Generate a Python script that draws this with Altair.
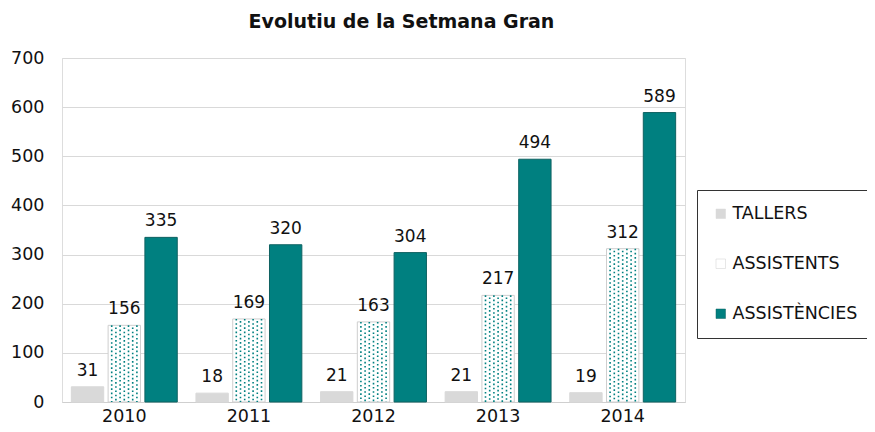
import altair as alt
import pandas as pd

years = ["2010", "2011", "2012", "2013", "2014"]
series = ["TALLERS", "ASSISTENTS", "ASSISTÈNCIES"]
tallers = [31, 18, 21, 21, 19]
assistents = [156, 169, 163, 217, 312]
assistencies = [335, 320, 304, 494, 589]

rows = []
for i, y in enumerate(years):
    rows.append({"year": y, "serie": series[0], "value": tallers[i]})
    rows.append({"year": y, "serie": series[1], "value": assistents[i]})
    rows.append({"year": y, "serie": series[2], "value": assistencies[i]})
df = pd.DataFrame(rows)
df_pat = df[df["serie"] == "ASSISTENTS"]

FONT = "DejaVu Sans"
TEAL = "#008080"

x_enc = alt.X("year:N", sort=years, title=None,
              scale=alt.Scale(paddingInner=0.15, paddingOuter=0.075),
              axis=alt.Axis(labelAngle=0, labelFont=FONT, labelFontSize=17.5,
                            labelColor="#111", labelPadding=5, ticks=False,
                            domainColor="#cfcfcf", domainWidth=1, grid=False))
xo_enc = alt.XOffset("serie:N", sort=series,
                     scale=alt.Scale(paddingInner=0.12, paddingOuter=0.0))
y_enc = alt.Y("value:Q", title=None,
              scale=alt.Scale(domain=[0, 700], nice=False),
              axis=alt.Axis(values=[0, 100, 200, 300, 400, 500, 600, 700],
                            labelFont=FONT, labelFontSize=17.5, labelColor="#111",
                            labelPadding=18, ticks=False, domain=False,
                            gridColor="#d9d9d9", gridWidth=1))

bars = alt.Chart(df).mark_bar(strokeWidth=1).encode(
    x=x_enc,
    xOffset=xo_enc,
    y=y_enc,
    color=alt.Color("serie:N", sort=series,
                    scale=alt.Scale(domain=series, range=["#d9d9d9", "#ffffff", TEAL]),
                    legend=alt.Legend(title=None, orient="none", legendX=635, legendY=132,
                                      symbolType="square", symbolSize=90,
                                      symbolStrokeColor="#aaaaaa", symbolStrokeWidth=0.5,
                                      labelFont=FONT, labelFontSize=17.5, labelColor="#111",
                                      rowPadding=31, padding=15, strokeColor="#333",
                                      fillColor="white", labelOffset=3)),
    stroke=alt.Stroke("serie:N", sort=series,
                      scale=alt.Scale(domain=series, range=["#d9d9d9", "#cfcfcf", "#0f6262"]),
                      legend=None),
)

layers = [bars]
offsets = [-12.6, -8.4, -4.2, 0.0, 4.2, 8.4, 12.6]
for k, off in enumerate(offsets):
    layers.append(
        alt.Chart(df_pat).mark_rule(
            xOffset=off, color=TEAL, strokeWidth=1.6,
            strokeDash=[1.6, 2.6], strokeDashOffset=(2.1 if k % 2 else 0),
        ).encode(
            x=alt.X("year:N", sort=years),
            y=alt.Y("value:Q"),
            y2=alt.datum(0),
        )
    )

labels = alt.Chart(df).mark_text(
    font=FONT, fontSize=17, color="#111", dy=-11, baseline="alphabetic"
).encode(
    x=alt.X("year:N", sort=years),
    xOffset=alt.XOffset("serie:N", sort=series),
    y=alt.Y("value:Q"),
    text=alt.Text("value:Q"),
)
layers.append(labels)

chart = alt.layer(*layers).properties(
    width=623, height=344,
    autosize=alt.AutoSizeParams(type="none"),
    padding={"left": 54, "top": 50, "right": 182, "bottom": 22},
    title=alt.TitleParams("Evolutiu de la Setmana Gran", font=FONT, fontSize=19,
                          fontWeight="bold", color="#111", anchor="middle",
                          dx=28, offset=17),
).configure_view(stroke=None).configure(background="white")

chart.save("out.html", embed_options={"renderer": "svg", "actions": False})
